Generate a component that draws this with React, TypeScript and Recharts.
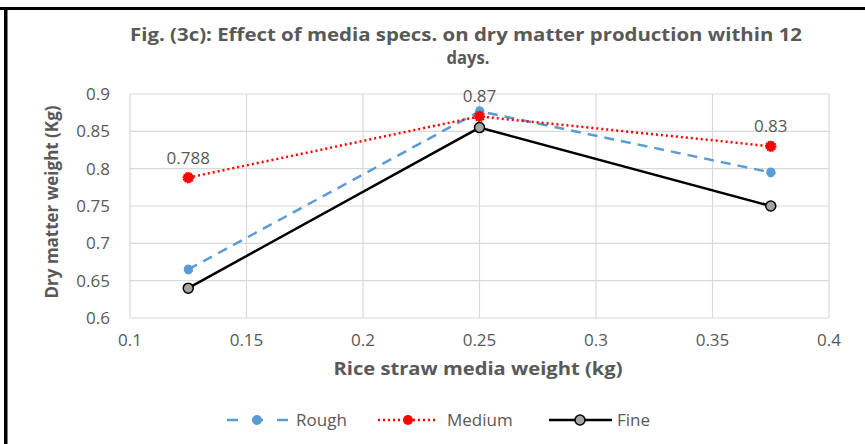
import React from 'react';
import {
  LineChart,
  Line,
  XAxis,
  YAxis,
  CartesianGrid,
  LabelList,
} from 'recharts';

// media weight (kg) on x
const mediaWeight = [0.125, 0.25, 0.375];
// dry matter weight (kg) per media spec
const roughValues = [0.665, 0.877, 0.795];
const mediumValues = [0.788, 0.87, 0.83];
const fineValues = [0.64, 0.855, 0.75];

const xTicks = [0.1, 0.15, 0.2, 0.25, 0.3, 0.35, 0.4];
const yTicks = [0.6, 0.65, 0.7, 0.75, 0.8, 0.85, 0.9];

const titleLine1 = 'Fig. (3c): Effect of media specs. on dry matter production within 12';
const titleLine2 = 'days.';
const xLabel = 'Rice straw media weight (kg)';
const yLabel = 'Dry matter weight (Kg)';

const legendItems = ['Rough', 'Medium', 'Fine'];

const data = mediaWeight.map((x, i) => ({
  x,
  rough: roughValues[i],
  medium: mediumValues[i],
  fine: fineValues[i],
}));

const TEXT = '#595959';
const FONT = '"Open Sans", "DejaVu Sans", sans-serif';

const W = 865;
const H = 444;

const RedDot = (props: any) => {
  const { cx, cy } = props;
  if (cx == null || cy == null) return null;
  return <circle cx={cx} cy={cy} r={5} fill="#FF0000" stroke="#FF0000" strokeWidth={1.5} strokeDasharray="1.5 1" />;
};

const LegendIcon = ({ kind }: { kind: string }) => {
  if (kind === 'Rough') {
    return (
      <svg width={62} height={14}>
        <line x1={0} y1={7} x2={62} y2={7} stroke="#5B9BD5" strokeWidth={2.5} strokeDasharray="11 14" strokeDashoffset={-1} />
        <circle cx={31} cy={7} r={5} fill="#5B9BD5" />
      </svg>
    );
  }
  if (kind === 'Medium') {
    return (
      <svg width={60} height={14}>
        <line x1={0} y1={7} x2={60} y2={7} stroke="#FF0000" strokeWidth={2.5} strokeDasharray="2 3" />
        <circle cx={30} cy={7} r={5} fill="#FF0000" />
      </svg>
    );
  }
  return (
    <svg width={63} height={14}>
      <line x1={0} y1={7} x2={63} y2={7} stroke="#000" strokeWidth={2.5} />
      <circle cx={31} cy={7} r={5} fill="#A5A5A5" stroke="#000" strokeWidth={1.5} />
    </svg>
  );
};

const legendPos: Record<string, { icon: number; text: number }> = {
  Rough: { icon: 226, text: 296 },
  Medium: { icon: 378, text: 447 },
  Fine: { icon: 549, text: 617 },
};

export default function App() {
  return (
    <div style={{ position: 'absolute', left: 0, top: 0, width: W, height: H, background: '#fff', overflow: 'hidden' }}>
      <LineChart
        width={W}
        height={H}
        data={data}
        margin={{ top: 94, right: 36, bottom: 96, left: 70 }}
      >
        <CartesianGrid stroke="#D9D9D9" strokeWidth={1.2} />
        <XAxis
          dataKey="x"
          type="number"
          domain={[0.1, 0.4]}
          ticks={xTicks}
          axisLine={false}
          tickLine={false}
          tickSize={0}
          tickMargin={16}
          height={30}
          tick={{ fill: TEXT, fontSize: 17, fontFamily: FONT }}
        />
        <YAxis
          type="number"
          domain={[0.6, 0.9]}
          ticks={yTicks}
          axisLine={false}
          tickLine={false}
          tickSize={0}
          tickMargin={20}
          width={60}
          tick={{ fill: TEXT, fontSize: 17, fontFamily: FONT }}
        />
        <Line
          dataKey="rough"
          stroke="#5B9BD5"
          strokeWidth={2.5}
          strokeDasharray="10 7"
          dot={{ r: 4.5, fill: '#5B9BD5', stroke: '#5B9BD5', strokeWidth: 1 }}
          isAnimationActive={false}
        />
        <Line
          dataKey="medium"
          stroke="#FF0000"
          strokeWidth={2.5}
          strokeDasharray="2 3"
          dot={<RedDot />}
          isAnimationActive={false}
        >
          <LabelList dataKey="medium" position="top" offset={14} fill={TEXT} fontSize={17} fontFamily={FONT} />
        </Line>
        <Line
          dataKey="fine"
          stroke="#000000"
          strokeWidth={2.5}
          dot={{ r: 5, fill: '#A5A5A5', stroke: '#000', strokeWidth: 1.5 }}
          isAnimationActive={false}
        />
      </LineChart>

      <svg width={W} height={H} style={{ position: 'absolute', left: 0, top: 0, pointerEvents: 'none' }}>
        <rect x={0} y={7} width={W} height={3} fill="#000" />
        <rect x={4} y={7} width={3.5} height={H - 7} fill="#000" />
        <g fontFamily={FONT} fontWeight={700} fill={TEXT}>
          <text x={466} y={41} fontSize={17} textAnchor="middle" textLength={672} lengthAdjust="spacingAndGlyphs">
            {titleLine1}
          </text>
          <text x={468} y={64} fontSize={17} textAnchor="middle" textLength={43} lengthAdjust="spacingAndGlyphs">
            {titleLine2}
          </text>
          <text x={478} y={375} fontSize={18} textAnchor="middle" textLength={289} lengthAdjust="spacingAndGlyphs">
            {xLabel}
          </text>
          <text
            x={0}
            y={0}
            fontSize={18}
            textAnchor="middle"
            textLength={193}
            lengthAdjust="spacingAndGlyphs"
            transform="translate(58 202) rotate(-90)"
          >
            {yLabel}
          </text>
        </g>
      </svg>

      {legendItems.map((name) => (
        <React.Fragment key={name}>
          <div style={{ position: 'absolute', left: legendPos[name].icon, top: 413, height: 14 }}>
            <LegendIcon kind={name} />
          </div>
          <div
            style={{
              position: 'absolute',
              left: legendPos[name].text,
              top: 408,
              fontFamily: FONT,
              fontSize: 17,
              color: TEXT,
              lineHeight: '24px',
            }}
          >
            {name}
          </div>
        </React.Fragment>
      ))}
    </div>
  );
}
